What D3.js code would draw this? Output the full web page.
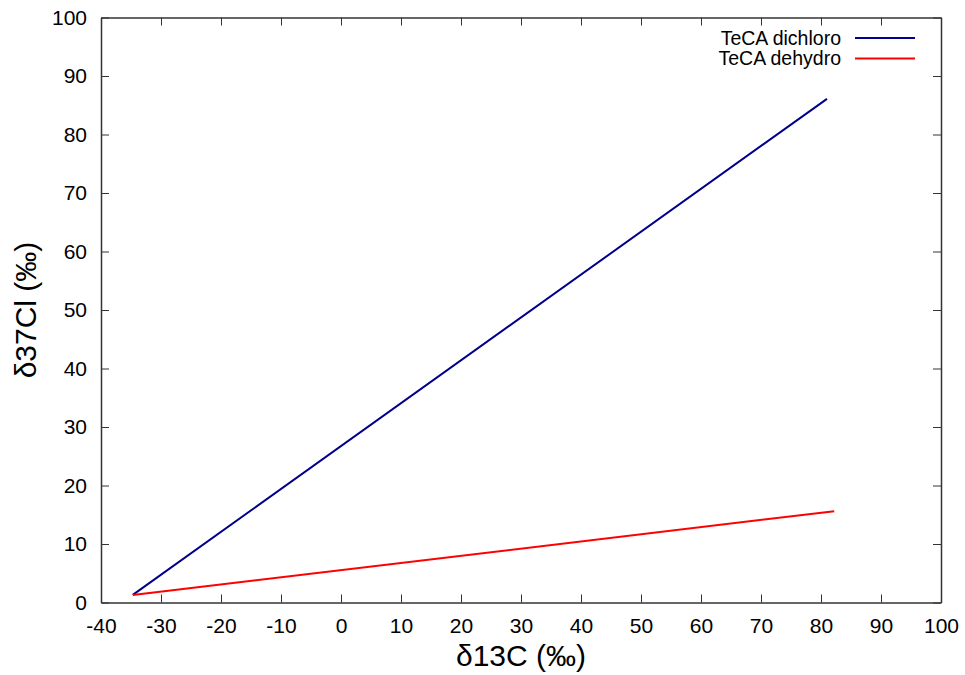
<!DOCTYPE html>
<html><head><meta charset="utf-8">
<script src="https://cdn.jsdelivr.net/npm/d3@7"></script>
<style>body{margin:0;background:#fff}svg{display:block}text{font-family:"Liberation Sans",Arial,sans-serif;fill:#000}</style>
</head><body>
<script>
const xTicks = [-40,-30,-20,-10,0,10,20,30,40,50,60,70,80,90,100];
const yTicks = [0,10,20,30,40,50,60,70,80,90,100];
const seriesNames = ["TeCA dichloro","TeCA dehydro"];
const seriesColors = ["#00008b","#ff0000"];
const dichloroX = [-34.7, 81.0];
const dichloroY = [1.3, 86.1];
const dehydroX = [-34.7, 82.2];
const dehydroY = [1.3, 15.6];

const W=965,H=675, L=101, R=941, T=17.5, B=602.5;
const svg=d3.select("body").append("svg").attr("width",W).attr("height",H);
const x=d3.scaleLinear().domain([-40,100]).range([L,R]);
const y=d3.scaleLinear().domain([0,100]).range([B,T]);
const axCol="#333";
const fmt=d=>String(d);
const gb=svg.append("g").attr("transform",`translate(0,${B})`).call(d3.axisBottom(x).tickValues(xTicks).tickFormat(fmt).tickSizeInner(-8).tickSizeOuter(0).tickPadding(16));
const gt=svg.append("g").attr("transform",`translate(0,${T})`).call(d3.axisTop(x).tickValues(xTicks).tickSizeInner(-8).tickSizeOuter(0).tickFormat(""));
const gl=svg.append("g").attr("transform",`translate(${L},0)`).call(d3.axisLeft(y).tickValues(yTicks).tickFormat(fmt).tickSizeInner(-8).tickSizeOuter(0).tickPadding(14));
const gr=svg.append("g").attr("transform",`translate(${R},0)`).call(d3.axisRight(y).tickValues(yTicks).tickSizeInner(-8).tickSizeOuter(0).tickFormat(""));
[gb,gt,gl,gr].forEach(g=>{g.selectAll("path").attr("stroke",axCol).attr("stroke-width",1.5);g.selectAll("line").attr("stroke",axCol).attr("stroke-width",1);g.selectAll("text").style("font-size","21px").attr("fill","#000");});
const line=d3.line().x(d=>x(d[0])).y(d=>y(d[1]));
const data=[d3.zip(dichloroX,dichloroY), d3.zip(dehydroX,dehydroY)];
data.forEach((d,i)=>svg.append("path").datum(d).attr("d",line).attr("fill","none").attr("stroke",seriesColors[i]).attr("stroke-width",2));
seriesNames.forEach((n,i)=>{
  const yy=38+i*20.5;
  svg.append("text").attr("x",841).attr("y",yy).attr("dy","0.35em").attr("text-anchor","end").style("font-size","19.5px").text(n);
  svg.append("line").attr("x1",855).attr("x2",915).attr("y1",yy).attr("y2",yy).attr("stroke",seriesColors[i]).attr("stroke-width",2);
});
svg.append("text").attr("x",(L+R)/2).attr("y",666).attr("text-anchor","middle").style("font-size","30px").text("δ13C (‰)");
svg.append("text").attr("transform",`translate(36,${(T+B)/2}) rotate(-90)`).attr("text-anchor","middle").style("font-size","30px").text("δ37Cl (‰)");
</script>
</body></html>
